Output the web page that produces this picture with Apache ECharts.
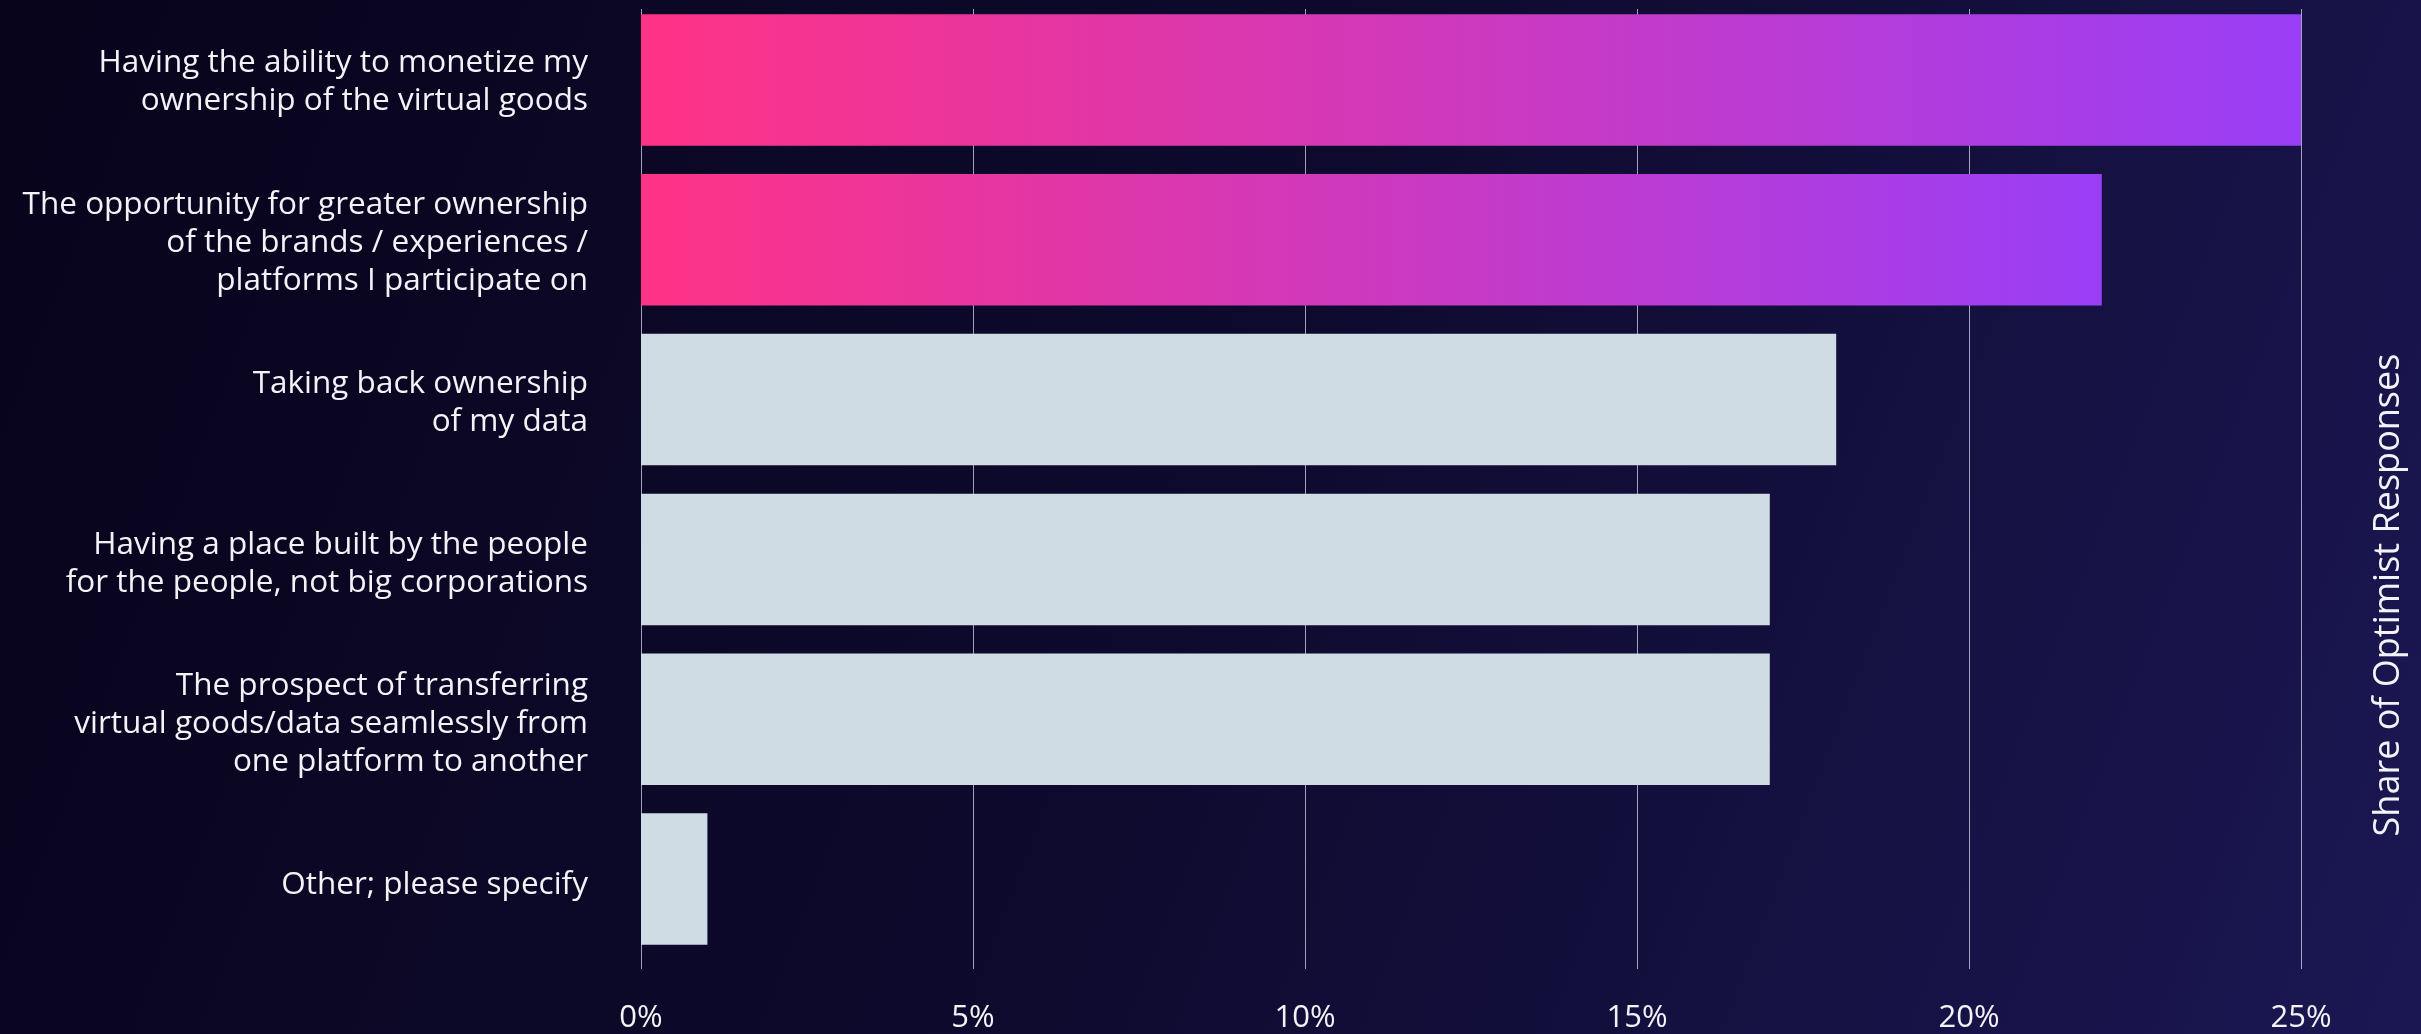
<!DOCTYPE html>
<html>
<head>
<meta charset="utf-8">
<script src="https://cdn.jsdelivr.net/npm/echarts@6/dist/echarts.min.js"></script>
<style>
  html, body { margin: 0; padding: 0; background: #0a051f; }
  #chart { width: 2421px; height: 1034px; }
</style>
</head>
<body>
<div id="chart"></div>
<script>
const categories = [
  "Having the ability to monetize my\nownership of the virtual goods",
  "The opportunity for greater ownership\nof the brands / experiences /\nplatforms I participate on",
  "Taking back ownership\nof my data",
  "Having a place built by the people\nfor the people, not big corporations",
  "The prospect of transferring\nvirtual goods/data seamlessly from\none platform to another",
  "Other; please specify"
];
const values = [25, 22, 18, 17, 17, 1];
const highlighted = [true, true, false, false, false, false];
const xTicks = [0, 5, 10, 15, 20, 25];
const axisTitle = "Share of Optimist Responses";

const FONT = "'Open Sans', 'Noto Sans', sans-serif";
const chart = echarts.init(document.getElementById('chart'));

const gradientBar = {
  type: 'linear', x: 0, y: 0, x2: 1, y2: 0,
  colorStops: [{ offset: 0, color: '#ff3386' }, { offset: 1, color: '#9a3ff7' }]
};

const hiddenValueAxis = (g) => ({ gridIndex: g, type: 'value', min: xTicks[0], max: xTicks[xTicks.length - 1], interval: 5,
  axisLine: { show: false }, axisTick: { show: false }, axisLabel: { show: false }, splitLine: { show: false } });

chart.setOption({
  backgroundColor: {
    type: 'linear', x: 0, y: 0.1, x2: 1, y2: 1,
    colorStops: [{ offset: 0, color: '#08041c' }, { offset: 0.5, color: '#0e0a2e' }, { offset: 1, color: '#1b1753' }]
  },
  animation: false,
  grid: [
    { left: 641, right: 120, top: -4, bottom: 75 },
    { left: 641, right: 120, top: 9, bottom: 57 },
    { left: 641, right: 120, top: 2, bottom: 69 }
  ],
  xAxis: [
    hiddenValueAxis(0),
    { gridIndex: 1, type: 'value', min: xTicks[0], max: xTicks[xTicks.length - 1], interval: 5,
      axisLine: { show: false }, axisTick: { show: false },
      splitLine: { show: true, lineStyle: { color: 'rgba(200,200,222,0.8)', width: 1 } },
      axisLabel: { formatter: '{value}%', color: '#f2f2f7', fontSize: 31, fontFamily: FONT, margin: 34 } },
    hiddenValueAxis(2)
  ],
  yAxis: [
    { gridIndex: 0, type: 'category', data: categories, inverse: true,
      axisLine: { show: false }, axisTick: { show: false }, splitLine: { show: false }, axisLabel: { show: false } },
    { gridIndex: 1, type: 'value', show: false },
    { gridIndex: 2, type: 'category', data: categories, inverse: true,
      axisLine: { show: false }, axisTick: { show: false }, splitLine: { show: false },
      axisLabel: { color: '#f2f2f7', fontSize: 31.5, fontFamily: FONT, lineHeight: 38, margin: 53, align: 'right' } }
  ],
  graphic: [{
    type: 'text', x: 2389, y: 595, rotation: Math.PI / 2,
    style: { text: axisTitle, fill: '#f2f2f7', font: '36px ' + FONT, textAlign: 'center', textVerticalAlign: 'middle' }
  }],
  series: [{
    type: 'bar', xAxisIndex: 0, yAxisIndex: 0,
    barCategoryGap: '17.7%',
    data: values.map((v, i) => ({ value: v, itemStyle: { color: highlighted[i] ? gradientBar : '#cfdce4' } })),
    z: 5
  }]
});
</script>
</body>
</html>
